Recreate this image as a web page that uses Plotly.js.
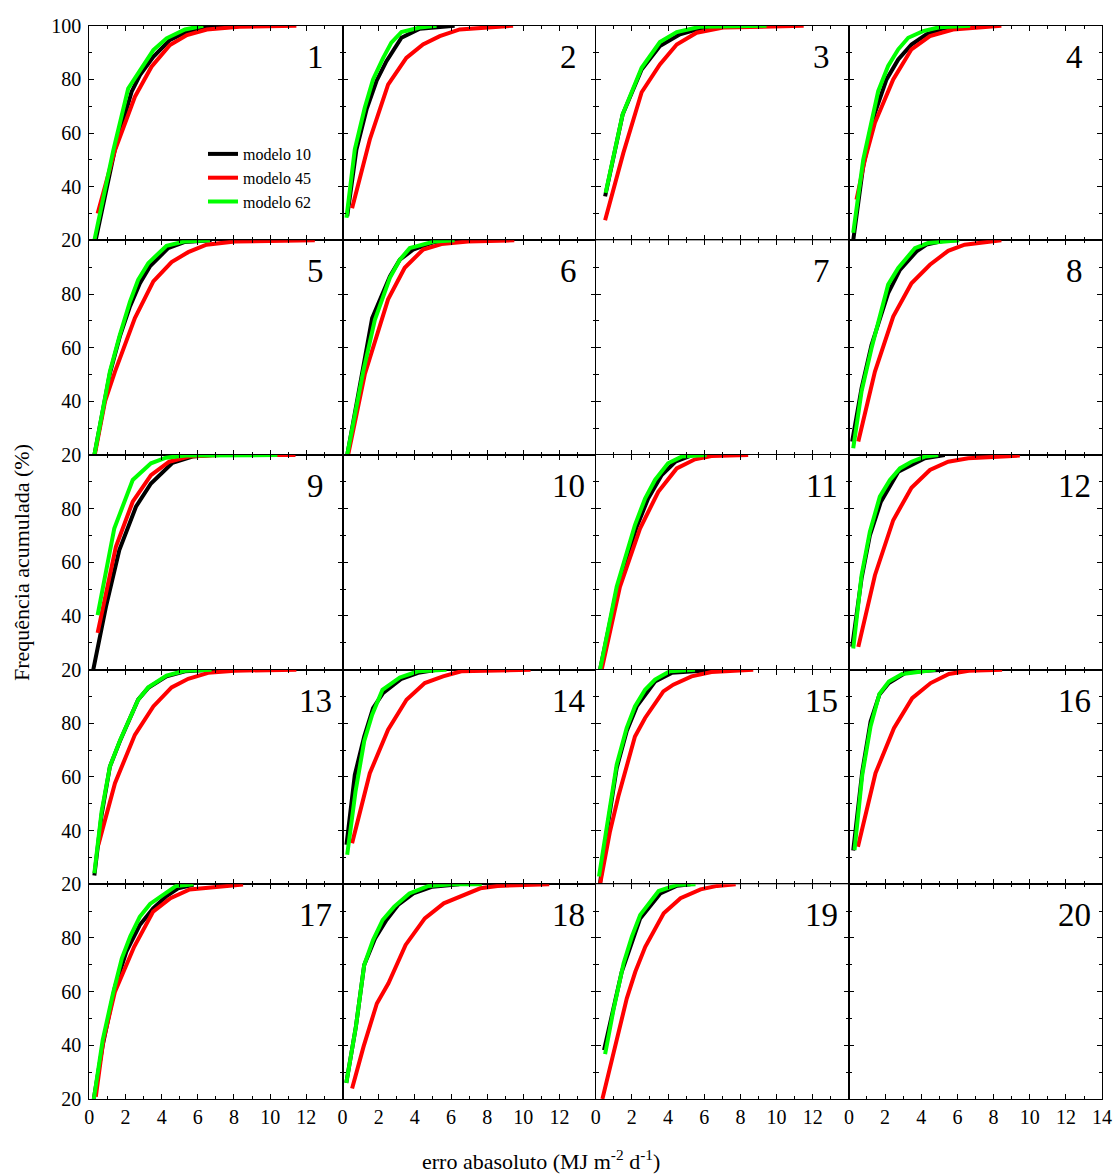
<!DOCTYPE html>
<html>
<head>
<meta charset="utf-8">
<script src="https://cdn.plot.ly/plotly-3.0.1.min.js"></script>
<style>html,body{margin:0;padding:0;background:#fff;}#chart{width:1115px;height:1176px;}</style>
</head>
<body>
<div id="chart"></div>
<script>
// ---------- Series and labels ----------
const SERIES_NAMES = ['modelo 10', 'modelo 45', 'modelo 62'];
const SERIES_COLORS = ['#000000', '#ff0000', '#00ff00'];
const PANEL_LABELS = ['1','2','3','4','5','6','7','8','9','10','11','12','13','14','15','16','17','18','19','20'];
const X_TICKS = [0, 2, 4, 6, 8, 10, 12, 14];
const Y_TICKS = [20, 40, 60, 80, 100];

// ---------- Data (erro absoluto x, frequência acumulada %) ----------
// Panel 1
const P1_M10_X = [0.35,1.42,2.34,2.8,3.54,4.46,5.4,6.5,7.96];
const P1_M10_Y = [20,54,75.4,81.6,88.4,94.7,97.8,99.6,100];
const P1_M45_X = [0.46,1.42,2.52,3.44,4.46,5.4,6.5,8.3,11.45];
const P1_M45_Y = [30,53.6,73.5,84.7,92.8,96.5,98.6,99.6,100];
const P1_M62_X = [0.28,1.33,2.15,2.8,3.54,4.27,5.29,6.3];
const P1_M62_Y = [20,53.6,76.6,83.5,90.9,95.3,98.6,100];
// Panel 2
const P2_M10_X = [0.26,0.77,1.33,1.88,2.43,3.26,4.27,6.2];
const P2_M10_Y = [29,53.9,68.8,79.4,86.8,95.5,98.9,100];
const P2_M45_X = [0.53,1.51,2.52,3.53,4.45,5.38,6.48,9.43];
const P2_M45_Y = [32,57.6,78,88,93,96.1,98.6,100];
const P2_M62_X = [0.22,0.68,1.23,1.69,2.25,2.7,3.26,4.27,5.2];
const P2_M62_Y = [28.4,53.9,69.4,80,88,93.7,97.6,99.3,100];
// Panel 3
const P3_M10_X = [0.52,1.49,2.54,3.55,4.66,5.76,7.05];
const P3_M10_Y = [36.4,66.9,83.7,92.4,96.8,98.9,99.9];
const P3_M45_X = [0.52,1.53,2.54,3.55,4.48,5.58,7.05,11.5];
const P3_M45_Y = [27.5,52.6,75.2,85.6,93,97.4,99.3,100];
const P3_M62_X = [0.55,1.49,2.54,3.55,4.48,5.76,9.45];
const P3_M62_Y = [37.7,67,84.3,93.9,97.6,99.6,100];
// Panel 4
const P4_M10_X = [0.24,0.79,1.44,2.08,2.73,3.46,4.29,5.2,6.5];
const P4_M10_Y = [20,47.6,67.5,80,87.4,93,96.8,98.9,99.9];
const P4_M45_X = [0.42,0.88,1.44,2.45,3.46,4.48,5.76,8.43];
const P4_M45_Y = [35.2,50,63.8,80,91.2,96.1,98.6,100];
const P4_M62_X = [0.24,0.79,1.62,2.17,2.73,3.28,4.1,5.0,6.7];
const P4_M62_Y = [22.8,50,75.6,85,91.2,95.5,98,99.4,100];
// Panel 5
const P5_M10_X = [0.28,1.14,1.69,2.25,2.8,3.35,4.36,5.29,6.76];
const P5_M10_Y = [20,50.5,64.2,75.4,84,90.3,97.1,99.4,100];
const P5_M45_X = [0.3,0.87,1.42,2.52,3.54,4.55,5.47,6.48,8.05,12.47];
const P5_M45_Y = [20,40,51.1,71,84.7,91.9,95.6,98.4,99.6,100];
const P5_M62_X = [0.28,1.14,1.69,2.25,2.7,3.26,4.27,5.29,6.67];
const P5_M62_Y = [20,51.1,64.8,77.2,85.3,91.5,98,99.6,100];
// Panel 6
const P6_M10_X = [0.26,1.05,1.64,2.62,3.17,3.9,5.1,6.2];
const P6_M10_Y = [20,49.9,71,86.6,92.8,96.5,99.4,100];
const P6_M45_X = [0.31,1.23,2.52,3.44,4.46,5.47,6.94,9.5];
const P6_M45_Y = [20,50,78,89.8,96.6,98.6,99.6,100];
const P6_M62_X = [0.26,1.14,1.79,2.62,3.17,3.72,5.1,6.2];
const P6_M62_Y = [20,51,70.4,86,92.8,97.1,99.6,100];
// Panel 8
const P8_M10_X = [0.18,0.7,1.25,2.17,2.82,3.74,4.29,5.3,6.0];
const P8_M10_Y = [25,44.9,61,80.3,89,95.9,98.4,99.9,100];
const P8_M45_X = [0.52,1.44,2.45,3.46,4.48,5.49,6.4,8.43];
const P8_M45_Y = [25,51.1,71.6,84,90.9,96.1,98.4,100];
const P8_M62_X = [0.24,0.7,1.25,2.17,2.73,3.65,4.38,6.1];
const P8_M62_Y = [22.5,43.7,59.8,83.5,89.7,97.1,99,100];
// Panel 9
const P9_M10_X = [0.22,0.92,1.66,2.58,3.41,4.6,5.7,6.8];
const P9_M10_Y = [20,43.4,64.6,80.7,89.4,97.1,99.4,100];
const P9_M45_X = [0.46,1.47,2.4,3.41,4.42,5.5,7.2,11.4];
const P9_M45_Y = [33.7,65.8,82.6,92.5,97.5,99.4,100,100];
const P9_M62_X = [0.46,1.38,2.4,3.41,4.24,5.34,10.4];
const P9_M62_Y = [40.3,72.6,90.7,96.9,99,99.8,100];
// Panel 11
const P11_M10_X = [0.24,1.16,2.27,2.9,3.65,4.4,5.3];
const P11_M10_Y = [20,49.6,73.3,83.8,92.5,97.5,99.9];
const P11_M45_X = [0.33,1.34,2.45,3.46,4.48,5.49,6.4,8.43];
const P11_M45_Y = [20,50.9,72.6,86.3,95,98.4,99.6,100];
const P11_M62_X = [0.24,1.16,2.17,2.73,3.28,4.0,4.75,6.13];
const P11_M62_Y = [20,50.9,73.9,83.8,90.7,96.9,99.4,100];
// Panel 12
const P12_M10_X = [0.18,0.7,1.16,1.77,2.73,4.2,5.3];
const P12_M10_Y = [28.5,54,70,82.6,93.8,98.8,100];
const P12_M45_X = [0.52,1.44,2.45,3.46,4.48,5.49,6.6,9.45];
const P12_M45_Y = [28.5,55.2,75.7,87.8,94.4,97.5,98.8,99.8];
const P12_M62_X = [0.24,0.7,1.16,1.71,2.27,2.82,3.46,4.2,4.94];
const P12_M62_Y = [27.9,55.2,71.4,84.5,90.7,95,97.5,99.4,100];
// Panel 13
const P13_M10_X = [0.28,0.68,1.14,1.69,2.7,3.26,4.27,5.29,6.76];
const P13_M10_Y = [23.3,45.9,63.9,73.3,88.8,93.2,97.5,99.4,100];
const P13_M45_X = [0.5,1.42,2.52,3.54,4.55,5.47,6.57,8.05,11.45];
const P13_M45_Y = [34.7,57.7,75.7,86.3,93.4,96.6,98.8,99.6,100];
const P13_M62_X = [0.28,0.68,1.14,1.69,2.7,3.26,4.27,5.29,6.76];
const P13_M62_Y = [24.1,47.1,63.9,73.5,88.8,93.4,97.8,99.6,100];
// Panel 14
const P14_M10_X = [0.22,0.68,1.2,1.69,2.25,3.26,4.18,5.29];
const P14_M10_Y = [34.7,60.8,75.1,85.7,91.3,96.6,98.8,100];
const P14_M45_X = [0.53,1.51,2.52,3.54,4.55,5.56,6.57,10.4];
const P14_M45_Y = [35.3,61.4,77.6,88.8,95,97.5,99.4,100];
const P14_M62_X = [0.26,0.72,1.2,1.64,2.21,3.17,4.18,5.75];
const P14_M62_Y = [31,54.6,73.3,83.2,92.5,97.1,99.4,100];
// Panel 15
const P15_M10_X = [0.24,0.7,1.16,1.71,2.27,3.28,4.2,5.67,6.7];
const P15_M10_Y = [20.4,43.4,63.3,77,86.3,95.6,98.8,99.6,100];
const P15_M45_X = [0.24,0.79,1.25,2.17,2.73,3.74,4.29,5.3,6.4,8.71];
const P15_M45_Y = [20,39.7,52.7,75.1,82,91.9,94.4,97.5,99.1,100];
const P15_M62_X = [0.18,0.66,1.16,1.71,2.17,2.73,3.28,4.1,5.49];
const P15_M62_Y = [22.9,44,64.6,78.2,86.3,92.5,96.3,99.4,100];
// Panel 16
const P16_M10_X = [0.24,0.74,1.2,1.69,2.21,3.13,4.24,5.25];
const P16_M10_Y = [32.6,62.1,80.7,90.7,95,98.8,99.6,100];
const P16_M45_X = [0.5,1.47,2.49,3.5,4.52,5.53,6.63,8.47];
const P16_M45_Y = [34,61.4,78.2,89.4,95,98.4,99.6,100];
const P16_M62_X = [0.31,0.74,1.2,1.69,2.21,2.95,4.79];
const P16_M62_Y = [32.8,60.8,78.9,91,95.6,98.4,100];
// Panel 17
const P17_M10_X = [0.25,0.74,1.42,2.05,2.79,3.53,4.27,4.91,5.76];
const P17_M10_Y = [20,40,61.8,74.9,84.8,91,95.6,98.5,99.8];
const P17_M45_X = [0.36,0.78,1.42,2.48,3.53,4.49,5.55,6.92,8.5];
const P17_M45_Y = [20.8,41.9,60,76.7,89.8,94.8,98.1,99.1,99.9];
const P17_M62_X = [0.25,0.74,1.31,1.8,2.26,2.79,3.36,4.06,4.8,5.76];
const P17_M62_Y = [20,41.9,59.3,72.4,80.5,87.9,92.7,96,99.4,100];
// Panel 18
const P18_M10_X = [0.21,0.74,1.2,1.8,2.43,3.07,3.92,4.97,6.46];
const P18_M10_Y = [26,46.9,69.9,79.8,86.7,92.3,96.6,99.1,100];
const P18_M45_X = [0.53,1.16,1.9,2.54,3.49,4.55,5.6,6.67,7.62,8.57,11.43];
const P18_M45_Y = [23.9,39.4,55.6,63.1,77.4,87.3,92.9,96,98.5,99.4,100];
const P18_M62_X = [0.21,0.74,1.2,1.69,2.22,2.86,3.7,4.76,6.03,7.7];
const P18_M62_Y = [26,46.9,69.9,79.2,86.7,91.7,96.6,99.4,100,100];
// Panel 19
const P19_M10_X = [0.46,1.44,2.46,3.57,4.5,5.24];
const P19_M10_Y = [38.2,67.4,87.3,96.6,99.5,100];
const P19_M45_X = [0.37,1.07,1.72,2.19,2.74,3.76,4.69,5.8,6.72,7.74];
const P19_M45_Y = [20,40,57.5,67.4,76.7,89.2,94.8,98.1,99.4,100];
const P19_M62_X = [0.52,0.98,1.54,2.0,2.46,3.48,4.5,5.52];
const P19_M62_Y = [36.7,53.1,70.5,80.5,88.6,97.5,99.8,100];

// Panels 7, 10 and 20 have no curves
const PANEL_SERIES = {
  1: [[P1_M10_X,P1_M10_Y],[P1_M45_X,P1_M45_Y],[P1_M62_X,P1_M62_Y]],
  2: [[P2_M10_X,P2_M10_Y],[P2_M45_X,P2_M45_Y],[P2_M62_X,P2_M62_Y]],
  3: [[P3_M10_X,P3_M10_Y],[P3_M45_X,P3_M45_Y],[P3_M62_X,P3_M62_Y]],
  4: [[P4_M10_X,P4_M10_Y],[P4_M45_X,P4_M45_Y],[P4_M62_X,P4_M62_Y]],
  5: [[P5_M10_X,P5_M10_Y],[P5_M45_X,P5_M45_Y],[P5_M62_X,P5_M62_Y]],
  6: [[P6_M10_X,P6_M10_Y],[P6_M45_X,P6_M45_Y],[P6_M62_X,P6_M62_Y]],
  8: [[P8_M10_X,P8_M10_Y],[P8_M45_X,P8_M45_Y],[P8_M62_X,P8_M62_Y]],
  9: [[P9_M10_X,P9_M10_Y],[P9_M45_X,P9_M45_Y],[P9_M62_X,P9_M62_Y]],
  11: [[P11_M10_X,P11_M10_Y],[P11_M45_X,P11_M45_Y],[P11_M62_X,P11_M62_Y]],
  12: [[P12_M10_X,P12_M10_Y],[P12_M45_X,P12_M45_Y],[P12_M62_X,P12_M62_Y]],
  13: [[P13_M10_X,P13_M10_Y],[P13_M45_X,P13_M45_Y],[P13_M62_X,P13_M62_Y]],
  14: [[P14_M10_X,P14_M10_Y],[P14_M45_X,P14_M45_Y],[P14_M62_X,P14_M62_Y]],
  15: [[P15_M10_X,P15_M10_Y],[P15_M45_X,P15_M45_Y],[P15_M62_X,P15_M62_Y]],
  16: [[P16_M10_X,P16_M10_Y],[P16_M45_X,P16_M45_Y],[P16_M62_X,P16_M62_Y]],
  17: [[P17_M10_X,P17_M10_Y],[P17_M45_X,P17_M45_Y],[P17_M62_X,P17_M62_Y]],
  18: [[P18_M10_X,P18_M10_Y],[P18_M45_X,P18_M45_Y],[P18_M62_X,P18_M62_Y]],
  19: [[P19_M10_X,P19_M10_Y],[P19_M45_X,P19_M45_Y],[P19_M62_X,P19_M62_Y]]
};

// ---------- Layout geometry ----------
const W = 1115, H = 1176;
const GRID_LEFT = 89.3, COL_W = 253.2;
const GRID_TOP = 25.7, ROW_H = 214.65;
const NCOLS = 4, NROWS = 5;
const FONT = 'Liberation Serif';

const traces = [];
const layout = {
  width: W, height: H, autosize: false,
  margin: {l: 0, r: 0, t: 0, b: 0},
  paper_bgcolor: '#ffffff', plot_bgcolor: '#ffffff',
  font: {family: FONT, color: '#000000', size: 20},
  showlegend: true,
  legend: {
    x: 203 / W, y: 1 - 137 / H, xanchor: 'left', yanchor: 'top',
    bgcolor: 'rgba(0,0,0,0)', borderwidth: 0,
    font: {family: FONT, size: 16, color: '#000000'},
    tracegroupgap: 0, itemwidth: 30
  },
  annotations: [],
  hovermode: false
};

for (let i = 1; i <= NROWS * NCOLS; i++) {
  const r = Math.floor((i - 1) / NCOLS), c = (i - 1) % NCOLS;
  const x0 = GRID_LEFT + COL_W * c, x1 = x0 + COL_W;
  const top = GRID_TOP + ROW_H * r, bot = top + ROW_H;
  const xa = 'xaxis' + (i === 1 ? '' : i), ya = 'yaxis' + (i === 1 ? '' : i);
  const xr = 'x' + (i === 1 ? '' : i), yr = 'y' + (i === 1 ? '' : i);

  // last column shows 14; top row shows 100 (shared borders show one label only)
  const xVals = X_TICKS.filter(v => !(c < NCOLS - 1 && v === 14));
  const yVals = Y_TICKS.filter(v => !(r > 0 && v === 100));

  layout[xa] = {
    domain: [x0 / W, x1 / W], anchor: yr, range: [0, 14],
    showline: true, linecolor: '#000', linewidth: 1, mirror: 'ticks',
    ticks: 'inside', ticklen: 5, tickcolor: '#000', tickwidth: 1,
    tickmode: 'array', tickvals: xVals, ticktext: xVals.map(String),
    showticklabels: r === NROWS - 1,
    tickfont: {family: FONT, size: 20, color: '#000'},
    minor: {tickmode: 'array', tickvals: [1,3,5,7,9,11,13], ticks: 'inside', ticklen: 3, tickcolor: '#000', showgrid: false},
    showgrid: false, zeroline: false, fixedrange: true
  };
  layout[ya] = {
    domain: [1 - bot / H, 1 - top / H], anchor: xr, range: [20, 100],
    showline: true, linecolor: '#000', linewidth: 1, mirror: 'ticks',
    ticks: 'inside', ticklen: 5, tickcolor: '#000', tickwidth: 1,
    tickmode: 'array', tickvals: yVals, ticktext: yVals.map(String),
    showticklabels: c === 0, ticklabelstandoff: 3,
    tickfont: {family: FONT, size: 20, color: '#000'},
    minor: {tickmode: 'array', tickvals: [30,50,70,90], ticks: 'inside', ticklen: 3, tickcolor: '#000', showgrid: false},
    showgrid: false, zeroline: false, fixedrange: true
  };

  const series = PANEL_SERIES[i];
  if (series) {
    series.forEach((s, k) => {
      traces.push({
        type: 'scatter', mode: 'lines', x: s[0], y: s[1],
        xaxis: xr, yaxis: yr, name: SERIES_NAMES[k],
        legendgroup: 'g' + k, showlegend: i === 1,
        line: {color: SERIES_COLORS[k], width: 4}
      });
    });
  } else {
    traces.push({type: 'scatter', mode: 'lines', x: [], y: [], xaxis: xr, yaxis: yr, showlegend: false, hoverinfo: 'skip'});
  }

  layout.annotations.push({
    xref: xr, yref: yr, x: 12.5, y: 88.5, text: PANEL_LABELS[i - 1],
    showarrow: false, xanchor: 'center', yanchor: 'middle',
    font: {family: FONT, size: 33, color: '#000'}
  });
}

layout.annotations.push({
  xref: 'paper', yref: 'paper', x: 22 / W, y: 1 - 563 / H,
  text: 'Frequência acumulada (%)', textangle: -90, showarrow: false,
  xanchor: 'center', yanchor: 'middle',
  font: {family: FONT, size: 22, color: '#000'}
});
layout.annotations.push({
  xref: 'paper', yref: 'paper', x: 541 / W, y: 1 - 1160 / H,
  text: 'erro abasoluto (MJ m<sup>-2</sup> d<sup>-1</sup>)', showarrow: false,
  xanchor: 'center', yanchor: 'middle',
  font: {family: FONT, size: 22, color: '#000'}
});

Plotly.newPlot('chart', traces, layout, {staticPlot: true, displayModeBar: false});
</script>
</body>
</html>
